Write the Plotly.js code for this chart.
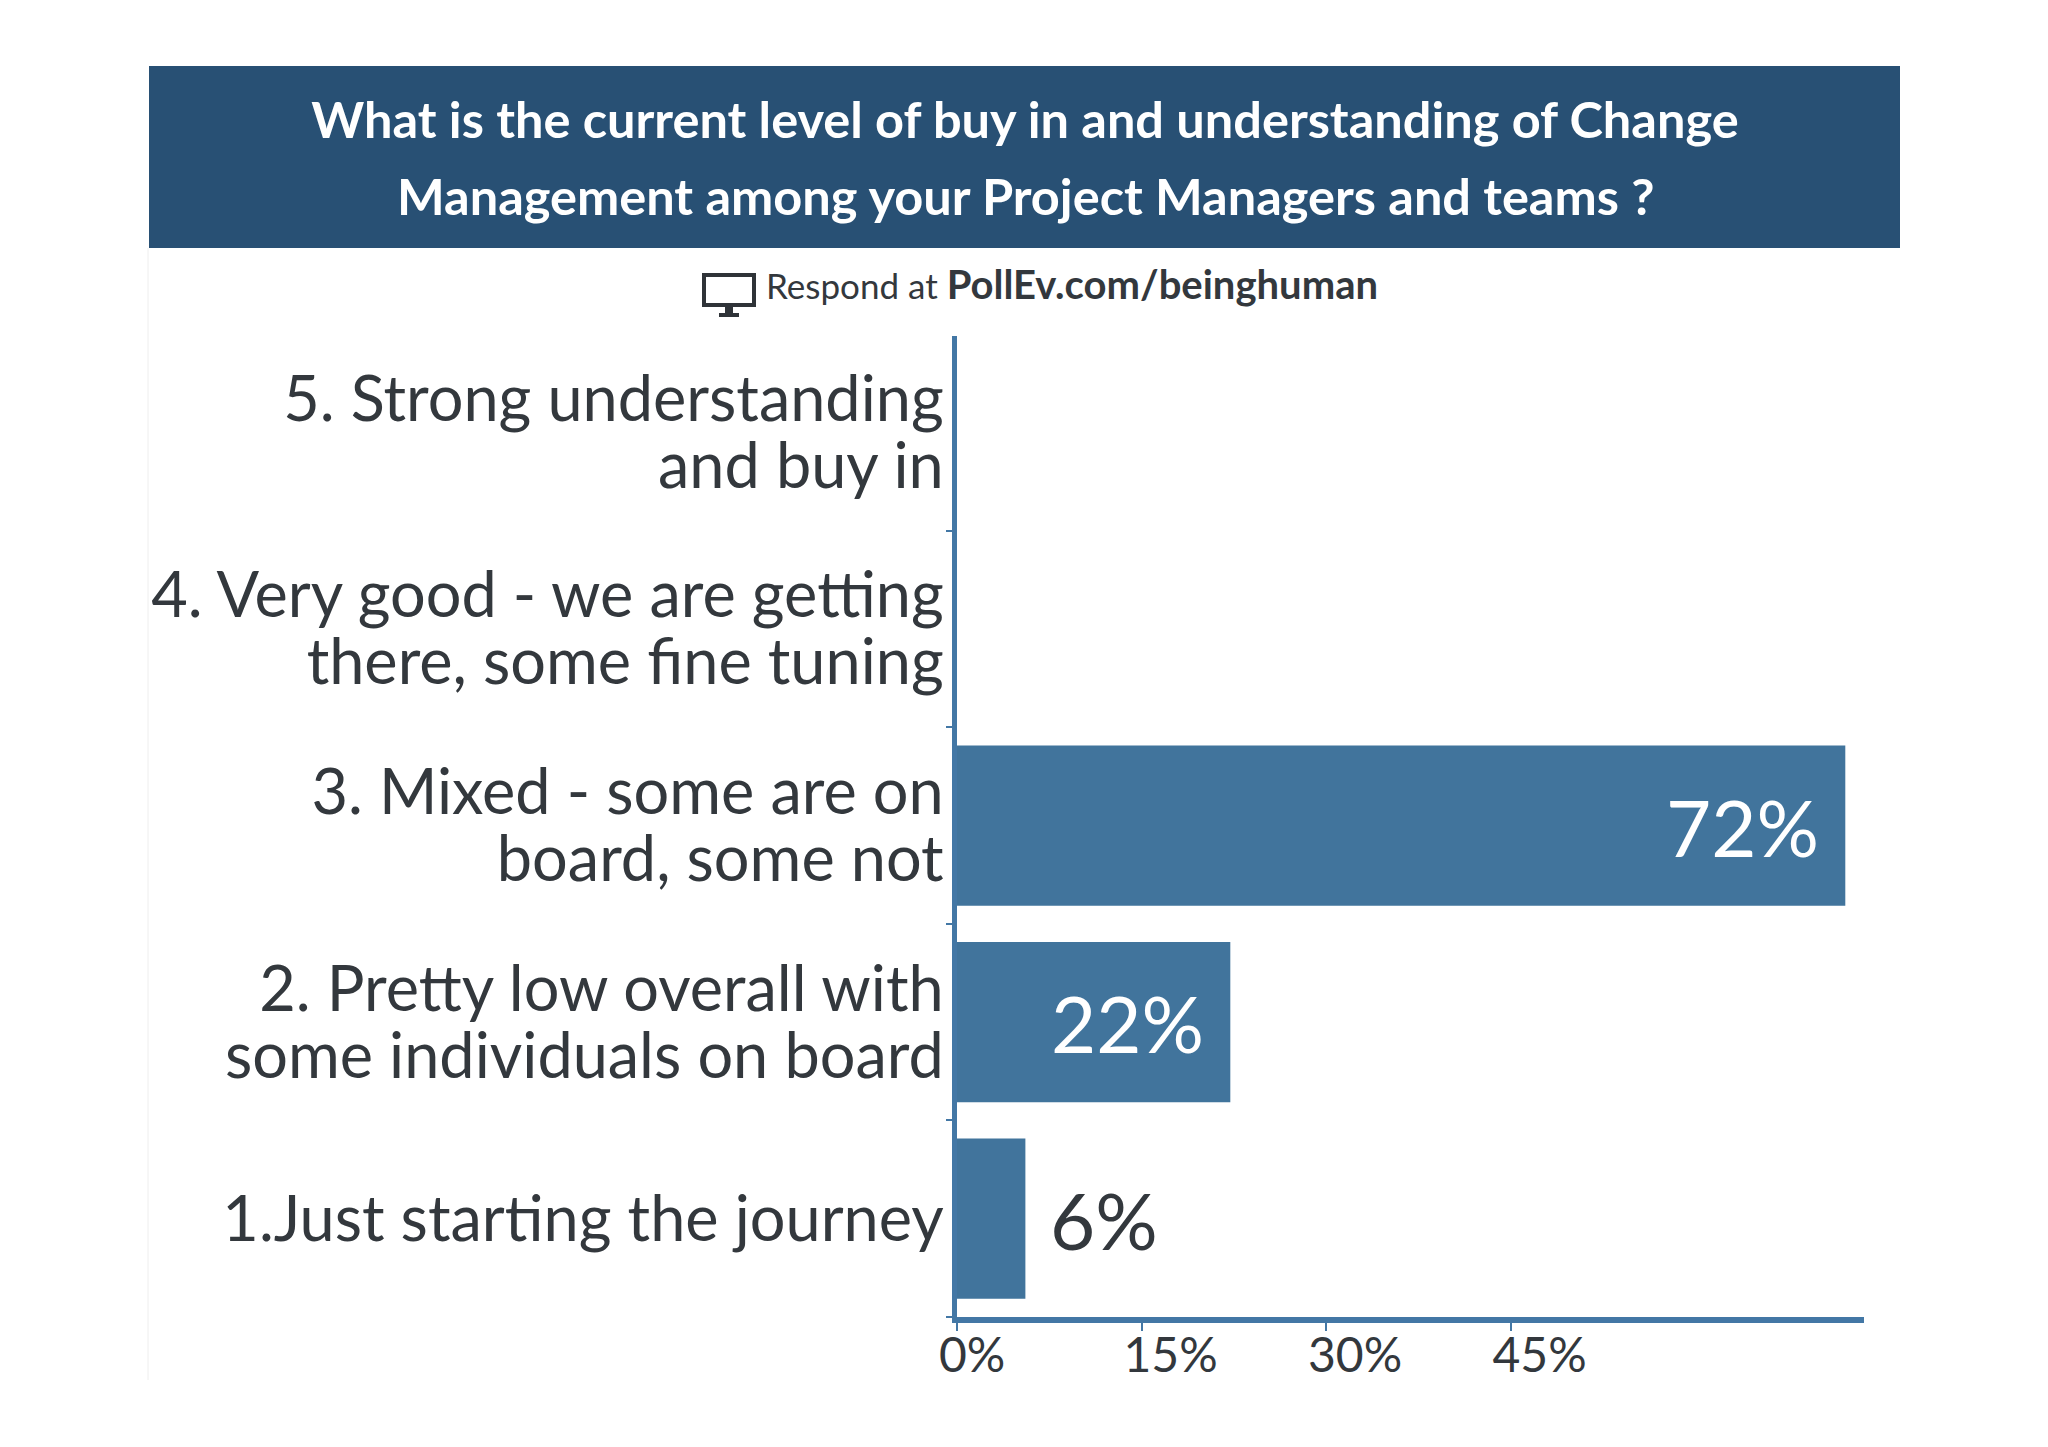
<!DOCTYPE html>
<html>
<head>
<meta charset="utf-8">
<script src="https://cdn.plot.ly/plotly-3.0.1.min.js"></script>
<style>html,body{margin:0;padding:0;background:#fff}#chart{width:2048px;height:1447px}</style>
</head>
<body>
<div id="chart"></div>
<script>
const categories = ["1.Just starting the journey", "2. Pretty low overall with<br>some individuals on board", "3. Mixed - some are on<br>board, some not", "4. Very good - we are getting<br>there, some fine tuning", "5. Strong understanding<br>and buy in"];
const shares = [5.56, 22.22, 72.22, 0, 0];
const barLabels = ["6%", "22%", "72%", "", ""];
const tickValues = [0, 15, 30, 45];
const tickLabels = ["0%", "15%", "30%", "45%"];
const titleLine1 = "What is the current level of buy in and understanding of Change";
const titleLine2 = "Management among your Project Managers and teams ?";

const W = 2048, H = 1447;
const M = {l: 957, r: 184, t: 336, b: 130};
const px = x => (x - M.l) / (W - M.l - M.r);
const py = y => (H - M.b - y) / (H - M.t - M.b);
const FONT = "Lato, sans-serif";
const INK = "#33383d", AXIS = "#4377a5", BAR = "#41749c", BAND = "#285074";

function pRect(x0, y0, x1, y1, extra) {
  return Object.assign({type: "rect", xref: "paper", yref: "paper", x0: px(x0), x1: px(x1), y0: py(y1), y1: py(y0), layer: "below", line: {width: 0}}, extra);
}
// Tick font size sets the line spacing; the inner span sets the glyph size.
const wrapTick = c => c.split("<br>").map(s => '<span style="font-size:63px">' + s + "</span>").join("<br>");

const shapes = [
  pRect(149, 66, 1900, 248, {fillcolor: BAND}),
  {type: "line", xref: "paper", yref: "paper", x0: px(148), x1: px(148), y0: py(248), y1: py(1380), line: {color: "#eeeeee", width: 1}, layer: "below"},
  pRect(704, 275, 754, 305, {fillcolor: "rgba(0,0,0,0)", line: {color: "#2f3338", width: 4}}),
  pRect(725, 305, 733, 314, {fillcolor: "#2f3338"}),
  pRect(719, 313, 739, 317, {fillcolor: "#2f3338"})
];

const annotations = [
  {xref: "paper", yref: "paper", x: px(1025), y: py(196), xanchor: "center", yanchor: "middle", showarrow: false, text: "<b>" + titleLine2 + "</b>", font: {family: FONT, size: 50.5, color: "#ffffff"}},
  {xref: "paper", yref: "paper", x: px(764), y: py(284), xanchor: "left", yanchor: "middle", showarrow: false, text: 'Respond at <b><span style="font-size:40px">PollEv.com/beinghuman</span></b>', font: {family: FONT, size: 35, color: INK}}
];
barLabels.forEach((t, i) => {
  if (!t) return;
  const inside = shares[i] > 10;
  annotations.push({
    xref: "x", yref: "y", x: shares[i], y: categories[i], showarrow: false,
    xanchor: inside ? "right" : "left", yanchor: "middle", xshift: inside ? -24 : 23, yshift: -1,
    text: t, font: {family: FONT, size: 78, color: inside ? "#ffffff" : INK}
  });
});

Plotly.newPlot("chart", [{
  type: "bar", orientation: "h", x: shares, y: categories,
  marker: {color: BAR}, hoverinfo: "x+y"
}], {
  width: W, height: H, margin: M, paper_bgcolor: "#ffffff", plot_bgcolor: "#ffffff",
  showlegend: false, bargap: 0.185, shapes, annotations,
  font: {family: FONT, color: INK},
  title: {text: "<b>" + titleLine1 + "</b>", xref: "paper", yref: "container", x: px(1025), xanchor: "center", y: 1 - 120 / H, yanchor: "middle", font: {family: FONT, size: 50.5, color: "#ffffff"}},
  xaxis: {
    range: [0, 73.74], tickmode: "array", tickvals: tickValues, ticktext: tickLabels,
    showgrid: false, zeroline: false, showline: true, linecolor: AXIS, linewidth: 6,
    ticks: "outside", ticklen: 8, tickwidth: 2, tickcolor: AXIS,
    ticklabelposition: "outside right", ticklabelshift: -22, ticklabelstandoff: -9,
    tickfont: {family: FONT, size: 48, color: INK}
  },
  yaxis: {
    type: "category", categoryorder: "array", categoryarray: categories, range: [-0.5, 4.49],
    tickmode: "array", tickvals: categories, ticktext: categories.map(wrapTick), tickson: "boundaries",
    showgrid: false, zeroline: false, showline: true, linecolor: AXIS, linewidth: 5,
    ticks: "outside", ticklen: 6, tickwidth: 2, tickcolor: AXIS, ticklabelstandoff: -2, ticklabelshift: 4,
    tickfont: {family: FONT, size: 51.5, color: INK}
  }
}, {displayModeBar: false, responsive: false});
</script>
</body>
</html>
